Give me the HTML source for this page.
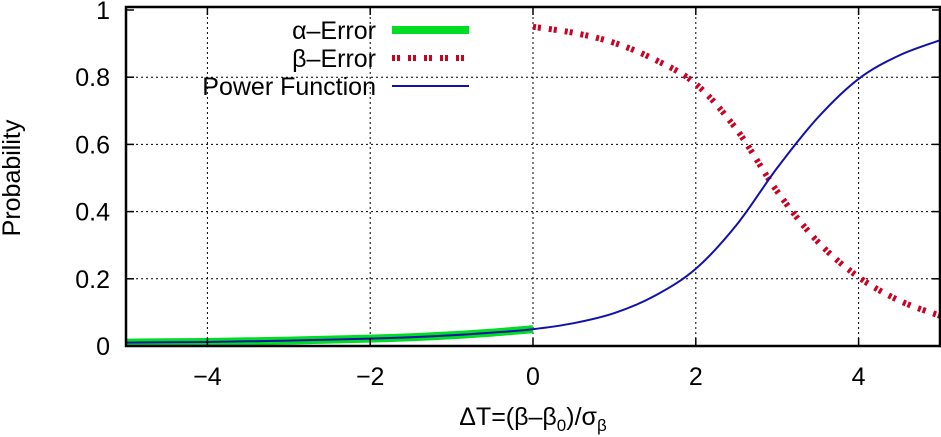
<!DOCTYPE html>
<html><head><meta charset="utf-8"><style>
body{margin:0;background:#fff;}
svg{display:block;font-family:"Liberation Sans",sans-serif;}
</style></head><body>
<svg id="chart" width="941" height="437">
<g id="grid"></g><g id="series"></g><g id="axes"></g><g id="legend"></g>
</svg>
<script>
const xTicks=[-4,-2,0,2,4];
const yTicks=[0,0.2,0.4,0.6,0.8,1];
const yTickLabels=["0","0.2","0.4","0.6","0.8","1"];
const xs=[-5,-4.5,-4,-3.5,-3,-2.5,-2,-1.5,-1,-0.5,0,0.5,1,1.5,2,2.5,3,3.5,4,4.5,5];
const power=[0.010,0.011,0.012,0.014,0.016,0.019,0.022,0.026,0.032,0.040,0.050,0.068,0.098,0.150,0.230,0.360,0.530,0.680,0.795,0.865,0.910];
const betaErr=[null,null,null,null,null,null,null,null,null,null,0.950,0.932,0.902,0.852,0.780,0.645,0.460,0.310,0.205,0.135,0.090];
const alphaErr=[0.010,0.011,0.012,0.014,0.016,0.019,0.022,0.026,0.032,0.040,0.050];
const NS="http://www.w3.org/2000/svg";
const X=v=>533+v*81.4, Y=v=>346-v*336;
function mk(p,t,a,name){const e=document.createElementNS(NS,t);for(const k in a)e.setAttribute(k,a[k]);


p.appendChild(e);return e;}
const G=document.getElementById('grid'),S=document.getElementById('series'),A=document.getElementById('axes'),L=document.getElementById('legend');
xTicks.forEach(t=>{mk(G,'line',{x1:X(t),x2:X(t),y1:7,y2:346,stroke:'#000','stroke-width':1,'stroke-dasharray':'2,3'},'x-gridline');
mk(A,'line',{x1:X(t),x2:X(t),y1:346,y2:338,stroke:'#000','stroke-width':1.5},'x-tick');
mk(A,'line',{x1:X(t),x2:X(t),y1:7,y2:15,stroke:'#000','stroke-width':1.5},'x-tick-top');
const tx=mk(A,'text',{x:X(t),y:385,'text-anchor':'middle','font-size':25},'x-tick-label');tx.textContent=(t<0?'\u2212'+(-t):t);});
yTicks.forEach((t,i)=>{if(t>0&&t<1)mk(G,'line',{x1:126,x2:940,y1:Y(t),y2:Y(t),stroke:'#000','stroke-width':1,'stroke-dasharray':'2,3'},'y-gridline');
mk(A,'line',{x1:126,x2:134,y1:Y(t),y2:Y(t),stroke:'#000','stroke-width':1.5},'y-tick');
mk(A,'line',{x1:932,x2:940,y1:Y(t),y2:Y(t),stroke:'#000','stroke-width':1.5},'y-tick-right');
const tx=mk(A,'text',{x:110,y:Y(t)+9,'text-anchor':'end','font-size':25},'y-tick-label');tx.textContent=yTickLabels[i];});
function path(arr){const p=[];arr.forEach((v,i)=>{if(v!=null)p.push([X(xs[i]),Y(v)]);});
let d='M'+p[0][0].toFixed(1)+','+p[0][1].toFixed(1);
for(let i=0;i<p.length-1;i++){const p0=p[Math.max(0,i-1)],p1=p[i],p2=p[i+1],p3=p[Math.min(p.length-1,i+2)];
const c1=[p1[0]+(p2[0]-p0[0])/6,p1[1]+(p2[1]-p0[1])/6],c2=[p2[0]-(p3[0]-p1[0])/6,p2[1]-(p3[1]-p1[1])/6];
d+='C'+c1.map(n=>n.toFixed(1))+' '+c2.map(n=>n.toFixed(1))+' '+p2.map(n=>n.toFixed(1));}
return d;}
mk(S,'path',{d:path(alphaErr),fill:'none',stroke:'#00dd22','stroke-width':8},'alpha-error-line');
mk(S,'path',{d:path(betaErr),fill:'none',stroke:'#cc0022','stroke-width':6,'stroke-dasharray':'3,2,3,8'},'beta-error-line');
mk(S,'path',{d:path(power),fill:'none',stroke:'#1111aa','stroke-width':2},'power-function-line');
mk(A,'rect',{x:126,y:7,width:814,height:339,fill:'none',stroke:'#000','stroke-width':2.5},'plot-frame');
const leg=[["\u03b1\u2013Error",{stroke:'#00dd22','stroke-width':8}],["\u03b2\u2013Error",{stroke:'#cc0022','stroke-width':6,'stroke-dasharray':'3,2,3,8'}],["Power Function",{stroke:'#1111aa','stroke-width':2}]];
leg.forEach((l,i)=>{const y=30+i*28;
const t=mk(L,'text',{x:376,y:y+9,'text-anchor':'end','font-size':25},'legend-label');t.textContent=l[0];
mk(L,'line',Object.assign({x1:392,x2:469,y1:y,y2:y},l[1]),'legend-swatch');});
const xt=mk(A,'text',{x:533,y:425,'text-anchor':'middle','font-size':25},'x-axis-title');
xt.innerHTML='\u0394T=(\u03b2\u2013\u03b2<tspan font-size="17" dy="6">0</tspan><tspan dy="-6">)/\u03c3</tspan><tspan font-size="17" dy="6">\u03b2</tspan>';
const yt=mk(A,'text',{x:20,y:178,'text-anchor':'middle','font-size':25,transform:'rotate(-90 20 178)'},'y-axis-title');yt.textContent='Probability';
</script>
</body></html>
